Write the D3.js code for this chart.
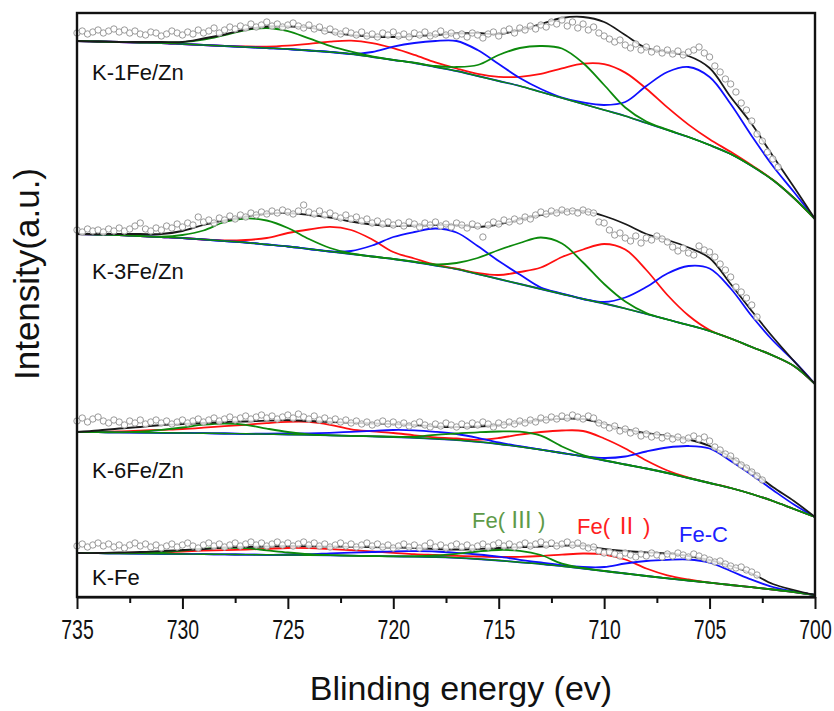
<!DOCTYPE html>
<html><head><meta charset="utf-8">
<script src="https://cdn.jsdelivr.net/npm/d3@7/dist/d3.min.js"></script>
<style>body{margin:0;background:#fff}svg{display:block}</style>
</head><body>
<svg id="chart" width="834" height="711"></svg>
<script>
// ---------- data ----------
const energyGrid = [735,734,733,732,731,730,729,728,727,726,725,724,723,722,721,720,719,718,717,716,715,714,713,712,711,710,709,708,707,706,705,704,703,702,701,700];
const xTicks = [735,730,725,720,715,710,705,700];
const xMinorTicks = [732.5,727.5,722.5,717.5,712.5,707.5,702.5];
const sampleNames = ["K-1Fe/Zn","K-3Fe/Zn","K-6Fe/Zn","K-Fe"];
const componentNames = [["Fe(","\u2162",")"],["Fe(","\u2161",")"],["Fe-C","",""]];
const scanStart = 735, scanStep = 0.25;

// K-1Fe/Zn
const baselineK1 = [559,558.5,558,557.5,557,556,555,554,553,552,551,549.5,548,546,543,540,537,533,529,524,519,514,508,502,496,490,484,477,470,463,455,446,434,420,402,381];
const feIIIK1 = [559,558.5,558,557.5,557.5,557.9,560.3,564.9,569.9,572,568.9,561.6,554.2,548.4,543.7,540.2,537.3,534,533,535,545,552,554,551.5,537,515,492.5,478.5,470.3,463,455,446,434,420,402,381];
const feIIK1 = [559,558.5,558,557.5,557,556,555,554.1,553.5,553.4,554.4,556.1,558.3,559.3,556.9,551.8,545.1,537.6,531.5,526.2,523.2,523.2,526.1,531.6,536.3,535.8,527.4,511.3,492.6,475.4,460.7,448.2,434.7,420.2,402,381];
const feCK1 = [559,558.5,558,557.5,557,556,555,554,553,552,551,549.5,548,546,548,553.3,557,559,559,550,536,522,511,502.5,497.5,495,498,514,528,533,523,496,464,434,408,381];
const fitK1 = [559,558.5,558,558,558,558,561.5,565.5,570.5,573.5,573.5,572.5,568,565,563.5,563,564,565,566.5,567,566,570,576,582,583,578,565,552,548,544,532,503,476,444,413,381];
const pointsK1 = [567,569,566,568,570,567,569,571,568,570,567,569,566,565,568,567,564,566,569,567,565,568,566,570,567,569,572,567,570,573,571,574,572,576,573,575,578,574,576,573,575,577,574,572,575,571,573,569,571,568,566,569,567,565,568,564,566,563,567,565,568,564,566,563,567,565,568,564,566,569,565,567,564,566,563,567,565,562,566,568,564,569,571,567,572,570,574,571,575,573,578,576,580,574,578,572,576,570,573,567,564,561,558,560,555,552,556,550,553,548,551,547,550,546,549,545,548,550,553,547,543,534,528,521,516,508,497,490,479,466,459,448,441,433];

// K-3Fe/Zn
const baselineK3 = [366,365.5,365,364,363,362,360.5,359,357.5,355.5,353.5,351,348.5,346,343.5,341,338,334.5,331,326,321,316,311,306,301,296.5,291.5,286,280.5,275,269,261.5,253,244.5,234,216];
const feIIIK3 = [366,365.5,365,364,363.3,365,369.5,378,381.5,379.5,372,361,352,346.5,343.5,341,338.3,335.7,337,342,350,357,362.5,356.5,337.5,316,298.5,287,280.5,275,269,261.5,253,244.5,234,216];
const feIIK3 = [366,365.5,365,364,363,362,360.5,359.5,360,362,367,370.5,373.1,370,360.5,348,341.5,335.3,331.3,327,325,328,332.5,343,350.5,356,350.5,330,305,284.5,270,261.5,253,244.5,234,216];
const feCK3 = [366,365.5,365,364,363,362,360.5,359,357.5,355.5,353.5,351,348.5,349,354.5,363,368,371.5,367.5,354,339,325.5,312.5,306.5,301,298,302.5,313,326.5,334,331.5,311.5,284,259.5,239,216];
const fitK3 = [366,366,366,366,366,369,375,379.5,383.5,386.5,387,385,382.5,378.5,375.5,374,374.5,375,375,373,375.5,380.5,385,388.5,389,384,376,366,360,352.5,342,316,289,263,239,216];
const pointsK3 = [370,368,371,369,370,368,371,369,372,369,371,374,377,371,369,372,370,374,372,376,373,377,375,383,378,380,377,382,380,384,381,385,383,387,385,388,386,389,387,390,388,386,389,395,388,386,389,385,387,384,382,385,381,383,379,381,377,379,376,378,375,377,374,378,376,373,377,375,378,374,376,373,377,375,372,376,374,363,375,378,376,380,378,381,379,383,381,385,388,386,389,387,390,388,389,387,390,388,387,378,377,370,365,367,362,359,364,357,362,360,364,361,358,353,349,352,347,345,354,350,348,343,336,330,323,313,308,302,295,283];

// K-6Fe/Zn
const baselineK6 = [168,167.8,167.6,167.4,167.2,167,166.8,166.5,166.2,165.9,165.5,165.1,164.7,164.2,163.7,163,162.2,161.2,160,158.2,156,153.3,150.3,147,143.5,139.5,135.5,131.5,127,122,117,112,106,99,91,83];
const feIIIK6 = [168,167.8,167.6,168.4,170.2,172.5,175.3,176.5,175.2,171.4,168,165.6,164.7,164.2,163.7,163.3,163.2,165.2,166.5,167.7,168.5,168.3,164.3,153.5,145,139.8,135.5,131.5,127,122,117,112,106,99,91,83];
const feIIK6 = [168,168.3,168.6,169.4,170.2,171,172.3,173.8,175.2,176.9,178.2,178.1,175.2,170.7,168.7,167,164.7,162.7,161.5,160.2,162,165.3,168,169.5,169,161.5,151.5,139.5,129.5,122.5,117,112,106,99,91,83];
const feCK6 = [168,167.8,167.6,167.4,167.2,167,166.8,166.5,166.2,166.4,166.5,166.6,167.2,168.2,169.2,170,169.7,168.2,166,162.2,157.5,153.8,150.3,147,144,142,143.5,148.5,152.5,154,151.5,139,125,110,95.5,83];
const fitK6 = [168,169.5,171.5,173,175,176,177,178,178.5,179.3,179.8,179,178,177.3,176.5,176,175,173.5,173,173.5,175,177.5,180,181.3,181,176,170.5,167,164,160.5,154,143,129,113,99,83];
const pointsK6 = [179,182,178,181,183,179,177,180,178,175,179,177,180,176,178,180,177,179,176,178,180,177,179,181,178,180,182,179,181,183,180,182,184,181,183,185,182,184,181,183,185,182,186,183,181,184,180,182,179,181,178,180,177,179,176,178,175,177,179,176,178,175,177,174,176,178,175,173,176,174,177,175,173,176,174,177,175,178,176,173,177,175,178,176,179,177,180,178,182,180,183,181,184,182,185,183,181,184,182,177,175,172,174,169,171,167,169,164,166,163,165,162,164,161,163,160,162,164,161,163,159,153,150,146,144,139,135,132,128,124,120];

// K-Fe
const baselineKFe = [47,46.8,46.6,46.4,46.2,46,45.8,45.6,45.4,45.2,45,44.8,44.6,44.3,44,43.7,43.3,43,42.2,41,39.5,37.7,36,33.8,31.5,29,26.5,24,21.7,19.5,17.3,15,12.8,10.5,8,5];
const feIIIKFe = [47,46.8,46.6,46.9,47.7,49.5,51.3,52.1,51.9,49.7,47.5,45.8,44.9,44.3,44,43.7,43.8,44.5,46.2,48.5,50,49.2,45,36.3,32,29,26.5,24,21.7,19.5,17.3,15,12.8,10.5,8,5];
const feIIKFe = [47,46.8,47.1,47.4,47.7,48.5,49.3,49.9,50.4,51.2,52,51.8,50.9,49.8,48.5,47.2,45.8,45,44.2,43.5,43,43.2,44,45.3,46.5,45.5,40.5,31.5,24.7,20.5,17.3,15,12.8,10.5,8,5];
const feCKFe = [47,46.8,46.6,46.4,46.2,46,45.8,45.6,45.4,45.2,45.5,45.8,46.6,47.3,48,48.7,48.8,48.5,47.2,45.5,43.3,40.2,37.5,34.8,33,33,36.5,39,40.2,40.5,37.3,29,20.3,13,8.5,5];
const fitKFe = [47,47,47.5,48,49,50,51,52.5,53,53.5,54,53.8,53.5,53.2,52.8,52.4,52,51,50.5,51,52,52.8,53.5,54.3,54.5,51,49,47.7,46.5,44,40,34,26.5,16,10,5];
const pointsKFe = [54,56,53,55,57,54,56,53,55,52,55,57,54,56,53,55,52,54,56,53,55,57,54,52,55,57,54,56,53,55,57,54,56,58,55,57,54,56,58,55,57,54,56,58,55,57,54,56,53,55,57,54,56,53,55,57,54,56,53,55,52,54,56,53,55,52,54,57,53,55,52,54,56,53,55,52,54,56,53,55,57,54,56,53,55,57,54,56,58,55,57,54,56,58,55,57,54,52,53,49,47,48,46,44,47,45,43,46,44,47,45,43,46,44,47,45,43,46,44,42,40,38,39,36,34,32,33,30,28,25];

// ---------- assemble ----------
const samples = [
  {name: sampleNames[0], baseline: baselineK1, feIII: feIIIK1, feII: feIIK1, feC: feCK1, fit: fitK1, points: pointsK1},
  {name: sampleNames[1], baseline: baselineK3, feIII: feIIIK3, feII: feIIK3, feC: feCK3, fit: fitK3, points: pointsK3},
  {name: sampleNames[2], baseline: baselineK6, feIII: feIIIK6, feII: feIIK6, feC: feCK6, fit: fitK6, points: pointsK6},
  {name: sampleNames[3], baseline: baselineKFe, feIII: feIIIKFe, feII: feIIKFe, feC: feCKFe, fit: fitKFe, points: pointsKFe}
];

// ---------- layout ----------
const L = 77, R = 815, T = 13, B = 597;
const x = d3.scaleLinear().domain([735, 700]).range([L, R]);
const y = d3.scaleLinear().domain([3, 587]).range([B, T]);

const svg = d3.select("#chart");
svg.append("rect").attr("width", 834).attr("height", 711).attr("fill", "#fff");

const COL = {fit: "#1a1a1a", feIII: "#0c8a0c", feII: "#ff1010", feC: "#1010ff", point: "#999"};
const lineGen = d3.line()
  .x((d, i) => x(energyGrid[i]))
  .y(d => y(d))
  .curve(d3.curveCatmullRom.alpha(0.5));

const plot = svg.append("g");
samples.forEach(s => {
  const g = plot.append("g");
  g.append("path").attr("d", lineGen(s.baseline)).attr("fill", "none").attr("stroke", COL.feC).attr("stroke-width", 1.8);
  g.append("path").attr("d", lineGen(s.feII)).attr("fill", "none").attr("stroke", COL.feII).attr("stroke-width", 1.8);
  g.append("path").attr("d", lineGen(s.feC)).attr("fill", "none").attr("stroke", COL.feC).attr("stroke-width", 1.8);
  g.append("path").attr("d", lineGen(s.feIII)).attr("fill", "none").attr("stroke", COL.feIII).attr("stroke-width", 1.8);
  g.append("path").attr("d", lineGen(s.baseline)).attr("fill", "none").attr("stroke", COL.feIII).attr("stroke-width", 1.4);
  g.append("path").attr("d", lineGen(s.fit)).attr("fill", "none").attr("stroke", COL.fit).attr("stroke-width", 1.8);
  g.selectAll("circle").data(s.points).join("circle")
    .attr("cx", (d, i) => x(scanStart - i * scanStep))
    .attr("cy", d => y(d))
    .attr("r", 3.2)
    .attr("fill", "#fff")
    .attr("fill-opacity", 0.8)
    .attr("stroke", COL.point)
    .attr("stroke-width", 1);
});

// frame
svg.append("rect").attr("x", L).attr("y", T).attr("width", R - L).attr("height", B - T)
  .attr("fill", "none").attr("stroke", "#111").attr("stroke-width", 2.4);

// axes
const mainFont = "'Liberation Sans',Arial,Helvetica,sans-serif";
const axisMain = d3.axisBottom(x).tickValues(xTicks).tickSize(12).tickSizeOuter(0).tickPadding(11).tickFormat(d3.format("d"));
const gx = svg.append("g").attr("transform", `translate(0,${B})`).call(axisMain);
gx.select(".domain").attr("stroke", "#111").attr("stroke-width", 2.2);
gx.selectAll(".tick line").attr("stroke", "#111").attr("stroke-width", 2);
gx.selectAll(".tick text").attr("fill", "#111").attr("font-family", mainFont).attr("font-size", 27)
  .attr("transform", "scale(0.72,1)");
const axisMinor = d3.axisBottom(x).tickValues(xMinorTicks).tickSize(6).tickSizeOuter(0).tickFormat("");
const gm = svg.append("g").attr("transform", `translate(0,${B})`).call(axisMinor);
gm.select(".domain").remove();
gm.selectAll(".tick line").attr("stroke", "#111").attr("stroke-width", 2);

svg.append("text").attr("x", 461).attr("y", 700).attr("text-anchor", "middle")
  .attr("font-family", mainFont).attr("font-size", 34).attr("fill", "#111")
  .text("Blinding energy (ev)");
svg.append("text").attr("transform", "translate(39,274) rotate(-90)").attr("text-anchor", "middle")
  .attr("font-family", mainFont).attr("font-size", 35).attr("fill", "#111")
  .text("Intensity(a.u.)");

// sample labels
const sampleLabelBaselines = [80, 279, 478, 585];
samples.forEach((s, i) => {
  svg.append("text").attr("x", 92).attr("y", sampleLabelBaselines[i])
    .attr("font-family", mainFont).attr("font-size", 22).attr("fill", "#111").text(s.name);
});

// component labels
const cjkFont = "'Noto Sans CJK SC','Noto Sans CJK JP',sans-serif";
const compLayout = [
  {x: 472, y: 528, color: "#5e9a48"},
  {x: 577, y: 534, color: "#ff2020"},
  {x: 679, y: 542, color: "#2020ff"}
];
componentNames.forEach((parts, i) => {
  const t = svg.append("text").attr("x", compLayout[i].x).attr("y", compLayout[i].y)
    .attr("font-family", mainFont).attr("font-size", 22).attr("fill", compLayout[i].color);
  t.append("tspan").text(parts[0]);
  if (parts[1]) t.append("tspan").attr("dx", 5).attr("font-family", cjkFont).attr("font-size", 23).text(parts[1]);
  if (parts[2]) t.append("tspan").attr("dx", 5).text(parts[2]);
});
</script>
</body></html>
